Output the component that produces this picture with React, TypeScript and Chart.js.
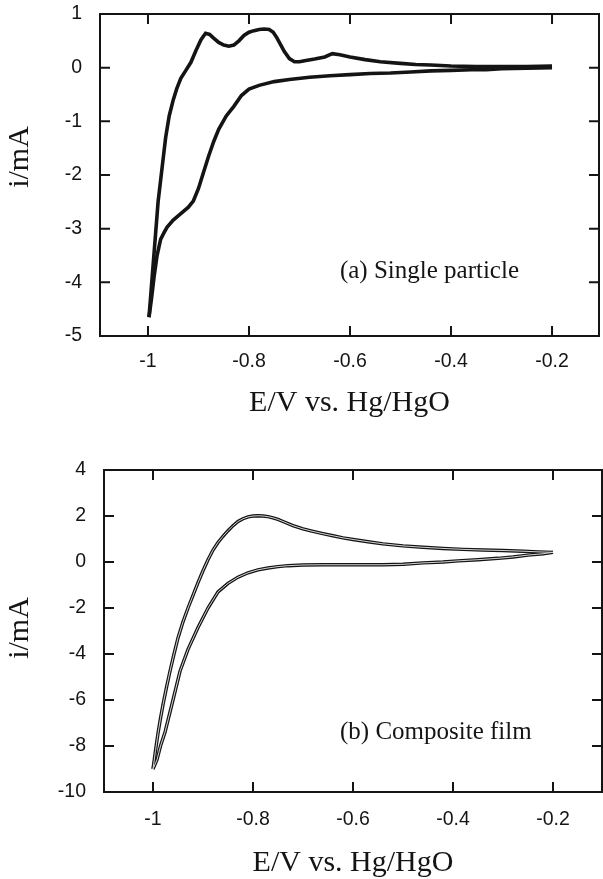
import React, { useEffect, useRef } from 'react';
import { Chart, registerables } from 'chart.js';

Chart.register(...registerables);

// ---------- tick values / labels ----------
const X_TICKS = [-1, -0.8, -0.6, -0.4, -0.2];
const X_TICK_LABELS = ['-1', '-0.8', '-0.6', '-0.4', '-0.2'];
const A_Y_TICKS = [-5, -4, -3, -2, -1, 0, 1];
const A_Y_TICK_LABELS = ['-5', '-4', '-3', '-2', '-1', '0', '1'];
const B_Y_TICKS = [-10, -8, -6, -4, -2, 0, 2, 4];
const B_Y_TICK_LABELS = ['-10', '-8', '-6', '-4', '-2', '0', '2', '4'];

// ---------- (a) Single particle ----------
const A_ANODIC_E = [-0.998, -0.995, -0.99, -0.985, -0.98, -0.975, -0.97, -0.965, -0.958, -0.95, -0.943, -0.935, -0.925, -0.915, -0.905, -0.895, -0.886, -0.878, -0.87, -0.86, -0.85, -0.84, -0.83, -0.82, -0.81, -0.8, -0.79, -0.78, -0.77, -0.76, -0.752, -0.745, -0.738, -0.73, -0.72, -0.71, -0.7, -0.69, -0.67, -0.65, -0.635, -0.62, -0.6, -0.57, -0.54, -0.5, -0.47, -0.44, -0.4, -0.35, -0.3, -0.25, -0.2];
const A_ANODIC_I = [-4.65, -4.3, -3.7, -3.1, -2.5, -2.1, -1.7, -1.3, -0.9, -0.6, -0.39, -0.2, -0.05, 0.1, 0.32, 0.52, 0.64, 0.62, 0.55, 0.47, 0.42, 0.4, 0.42, 0.5, 0.6, 0.66, 0.69, 0.71, 0.72, 0.71, 0.66, 0.56, 0.44, 0.3, 0.17, 0.11, 0.11, 0.13, 0.16, 0.2, 0.26, 0.24, 0.2, 0.15, 0.11, 0.08, 0.06, 0.05, 0.03, 0.02, 0.02, 0.02, 0.03];
const A_CATHODIC_E = [-0.2, -0.25, -0.3, -0.33, -0.36, -0.4, -0.44, -0.48, -0.52, -0.56, -0.6, -0.64, -0.68, -0.72, -0.75, -0.78, -0.8, -0.815, -0.83, -0.845, -0.86, -0.87, -0.88, -0.89, -0.9, -0.91, -0.92, -0.935, -0.95, -0.962, -0.968, -0.975, -0.982, -0.988, -0.993, -0.998];
const A_CATHODIC_I = [0.0, -0.01, -0.02, -0.04, -0.04, -0.05, -0.06, -0.08, -0.1, -0.11, -0.13, -0.15, -0.18, -0.22, -0.26, -0.33, -0.4, -0.52, -0.72, -0.9, -1.15, -1.38, -1.65, -1.95, -2.25, -2.48, -2.6, -2.72, -2.84, -2.97, -3.07, -3.2, -3.5, -3.9, -4.3, -4.65];

// ---------- (b) Composite film ----------
const B_ANODIC_E = [-1.0, -0.995, -0.99, -0.985, -0.98, -0.973, -0.966, -0.958, -0.95, -0.94, -0.93, -0.92, -0.91, -0.9, -0.89, -0.88, -0.87, -0.86, -0.85, -0.84, -0.83, -0.82, -0.81, -0.8, -0.79, -0.78, -0.77, -0.76, -0.75, -0.74, -0.72, -0.7, -0.68, -0.66, -0.64, -0.62, -0.6, -0.57, -0.54, -0.5, -0.46, -0.42, -0.38, -0.34, -0.3, -0.26, -0.23, -0.2];
const B_ANODIC_I = [-9.0, -8.2, -7.45, -6.8, -6.2, -5.45, -4.75, -4.0, -3.3, -2.6, -2.0, -1.45, -0.9, -0.38, 0.1, 0.52, 0.85, 1.12, 1.36, 1.58, 1.76, 1.88, 1.96, 2.0, 2.01, 2.0, 1.97, 1.92, 1.85, 1.76, 1.58, 1.44, 1.33, 1.23, 1.14, 1.05, 0.98, 0.88, 0.79, 0.7, 0.64, 0.59, 0.55, 0.52, 0.5, 0.47, 0.44, 0.42];
const B_CATHODIC_E = [-0.2, -0.22, -0.25, -0.28, -0.31, -0.35, -0.39, -0.42, -0.46, -0.5, -0.54, -0.58, -0.62, -0.66, -0.7, -0.73, -0.75, -0.77, -0.79, -0.81, -0.83, -0.85, -0.87, -0.89, -0.91, -0.93, -0.946, -0.96, -0.976, -0.985, -0.992, -1.0];
const B_CATHODIC_I = [0.42, 0.36, 0.3, 0.22, 0.16, 0.1, 0.05, 0.0, -0.04, -0.1, -0.12, -0.12, -0.12, -0.12, -0.13, -0.16, -0.2, -0.26, -0.34, -0.47, -0.66, -0.93, -1.3, -2.0, -2.85, -3.8, -4.75, -6.0, -7.4, -8.0, -8.6, -9.0];

const X_TITLE = 'E/V vs. Hg/HgO';
const Y_TITLE = 'i/mA';
const A_LABEL = '(a) Single particle';
const B_LABEL = '(b) Composite film';

const SANS = '"Liberation Sans", Arial, sans-serif';
const SERIF = '"Liberation Serif", "Times New Roman", serif';
const INK = '#141414';

const toPoints = (e: number[], i: number[]) => e.map((x, k) => ({ x, y: i[k] }));

const framePlugin = {
  id: 'frame',
  afterDatasetsDraw(chart: any, _args: any, opts: any) {
    const { ctx, chartArea: a } = chart;
    const xs = chart.scales.x;
    const ys = chart.scales.y;
    ctx.save();
    ctx.strokeStyle = INK;
    ctx.lineWidth = 2;
    ctx.strokeRect(a.left, a.top, a.right - a.left, a.bottom - a.top);
    const tl = 10;
    ctx.beginPath();
    xs.ticks.forEach((t: any) => {
      const p = xs.getPixelForValue(t.value);
      ctx.moveTo(p, a.bottom);
      ctx.lineTo(p, a.bottom - tl);
      ctx.moveTo(p, a.top);
      ctx.lineTo(p, a.top + tl);
    });
    ys.ticks.forEach((t: any) => {
      const p = ys.getPixelForValue(t.value);
      ctx.moveTo(a.left, p);
      ctx.lineTo(a.left + tl, p);
      ctx.moveTo(a.right, p);
      ctx.lineTo(a.right - tl, p);
    });
    ctx.stroke();

    // annotation
    ctx.fillStyle = INK;
    ctx.font = `25px ${SERIF}`;
    ctx.textAlign = 'left';
    ctx.textBaseline = 'middle';
    ctx.fillText(opts.label, xs.getPixelForValue(opts.labelE), ys.getPixelForValue(opts.labelI));

    // y title
    ctx.font = `30px ${SERIF}`;
    ctx.textAlign = 'center';
    ctx.translate(opts.yTitleX, opts.yTitleY);
    ctx.rotate(-Math.PI / 2);
    ctx.fillText(Y_TITLE, 0, 0);
    ctx.restore();
  },
};

function lineSets(series: { e: number[]; i: number[] }[], hollow: boolean, width: number) {
  const sets: any[] = [];
  series.forEach((s) => {
    sets.push({
      data: toPoints(s.e, s.i),
      showLine: true,
      borderColor: INK,
      borderWidth: width,
      pointRadius: 0,
      tension: 0,
      order: 2,
    });
    if (hollow) {
      sets.push({
        data: toPoints(s.e, s.i),
        showLine: true,
        borderColor: '#d4d4d4',
        borderWidth: 1,
        pointRadius: 0,
        tension: 0,
        order: 1,
      });
    }
  });
  return sets;
}

function makeConfig(p: any) {
  return {
    type: 'scatter',
    data: { datasets: p.datasets },
    options: {
      animation: false,
      responsive: false,
      devicePixelRatio: 1,
      layout: { padding: { left: 0, right: p.padRight, top: p.padTop, bottom: 0 } },
      plugins: {
        legend: { display: false },
        tooltip: { enabled: false },
        frame: p.frame,
      },
      scales: {
        x: {
          type: 'linear',
          position: 'bottom',
          min: p.xMin,
          max: p.xMax,
          grid: { display: false, drawTicks: false },
          border: { display: false },
          afterBuildTicks: (s: any) => {
            s.ticks = X_TICKS.map((v) => ({ value: v }));
          },
          afterFit: (s: any) => {
            s.height = p.xHeight;
            s.paddingLeft = 0;
            s.paddingRight = 0;
          },
          ticks: {
            autoSkip: false,
            maxRotation: 0,
            padding: p.xTickPad,
            color: INK,
            font: { family: SANS, size: 19.5 },
            callback: (_v: any, idx: number) => X_TICK_LABELS[idx],
          },
          title: {
            display: true,
            text: X_TITLE,
            color: INK,
            font: { family: SERIF, size: 30, lineHeight: 1 },
            padding: { top: 0, bottom: p.xTitlePad },
          },
        },
        y: {
          type: 'linear',
          min: p.yMin,
          max: p.yMax,
          grid: { display: false, drawTicks: false },
          border: { display: false },
          afterBuildTicks: (s: any) => {
            s.ticks = p.yTicks.map((v: number) => ({ value: v }));
          },
          afterFit: (s: any) => {
            s.width = p.yWidth;
            s.paddingTop = 0;
            s.paddingBottom = 0;
          },
          ticks: {
            autoSkip: false,
            padding: 18,
            color: INK,
            font: { family: SANS, size: 19.5 },
            callback: (_v: any, idx: number) => p.yLabels[idx],
          },
        },
      },
    },
    plugins: [framePlugin],
  } as any;
}

function Panel({ config, top, height }: { config: any; top: number; height: number }) {
  const ref = useRef<HTMLCanvasElement | null>(null);
  useEffect(() => {
    if (!ref.current) return;
    const chart = new Chart(ref.current, config);
    return () => chart.destroy();
  }, [config]);
  return (
    <canvas
      ref={ref}
      width={603}
      height={height}
      style={{ position: 'absolute', left: 0, top, width: 603, height }}
    />
  );
}

const configA = makeConfig({
  datasets: lineSets(
    [
      { e: A_ANODIC_E, i: A_ANODIC_I },
      { e: A_CATHODIC_E, i: A_CATHODIC_I },
    ],
    false,
    3.6
  ),
  padRight: 4,
  padTop: 14,
  xMin: -1.095,
  xMax: -0.107,
  yMin: -5,
  yMax: 1,
  yTicks: A_Y_TICKS,
  yLabels: A_Y_TICK_LABELS,
  xHeight: 104,
  yWidth: 100,
  xTickPad: 14,
  xTitlePad: 22,
  frame: { label: A_LABEL, labelE: -0.62, labelI: -3.8, yTitleX: 20, yTitleY: 157 },
});

const configB = makeConfig({
  datasets: lineSets(
    [
      { e: B_ANODIC_E, i: B_ANODIC_I },
      { e: B_CATHODIC_E, i: B_CATHODIC_I },
    ],
    true,
    3.4
  ),
  padRight: 1,
  padTop: 30,
  xMin: -1.098,
  xMax: -0.102,
  yMin: -10,
  yMax: 4,
  yTicks: B_Y_TICKS,
  yLabels: B_Y_TICK_LABELS,
  xHeight: 87,
  yWidth: 104,
  xTickPad: 16,
  xTitlePad: 1,
  frame: { label: B_LABEL, labelE: -0.626, labelI: -7.39, yTitleX: 20, yTitleY: 188 },
});

export default function App() {
  return (
    <div style={{ position: 'absolute', left: 0, top: 0, width: 603, height: 879, background: '#fff' }}>
      <Panel config={configA} top={0} height={440} />
      <Panel config={configB} top={440} height={439} />
    </div>
  );
}
